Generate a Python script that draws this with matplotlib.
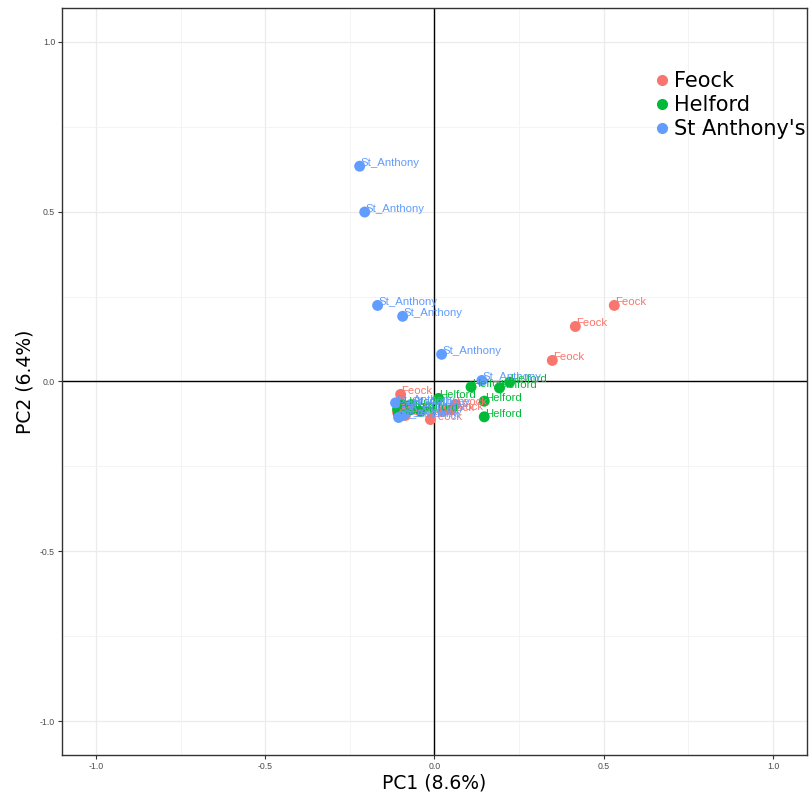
import matplotlib
matplotlib.use("Agg")
import matplotlib.pyplot as plt
from matplotlib.lines import Line2D
import numpy as np

# PCA scores

feock_x = [0.531, 0.416, 0.348, -0.100, -0.109, -0.086, -0.012, 0.024, 0.050, 0.062]
feock_y = [0.224, 0.162, 0.062, -0.038, -0.091, -0.100, -0.112, -0.088, -0.083, -0.068]

helford_x = [0.108, 0.192, 0.222, 0.147, 0.147, -0.109, -0.106, -0.094, -0.071, -0.041, 0.012]
helford_y = [-0.016, -0.019, -0.002, -0.058, -0.104, -0.082, -0.097, -0.068, -0.083, -0.088, -0.050]

stanthony_x = [-0.221, -0.206, -0.168, -0.094, 0.021, 0.140, -0.115, -0.106, -0.094, -0.085, -0.070]
stanthony_y = [0.634, 0.499, 0.224, 0.192, 0.080, 0.003, -0.063, -0.106, -0.100, -0.080, -0.068]

groups = [
	("Feock", "Feock", feock_x, feock_y, "#F8766D"),
	("Helford", "Helford", helford_x, helford_y, "#00BA38"),
	("St Anthony's", "St_Anthony", stanthony_x, stanthony_y, "#619CFF"),
]

ticks = [-1.0, -0.5, 0.0, 0.5, 1.0]
minor_ticks = [-0.75, -0.25, 0.25, 0.75]

fig = plt.figure(figsize=(8.11, 7.96), dpi=100)
ax = fig.add_axes([0.0765, 0.0515, 0.9185, 0.9385])

ax.set_xlim(-1.1, 1.1)
ax.set_ylim(-1.1, 1.1)

# grid, ggplot-ish
for t in ticks:
	ax.axvline(t, color="#EBEBEB", lw=0.9, zorder=0)
	ax.axhline(t, color="#EBEBEB", lw=0.9, zorder=0)
for t in minor_ticks:
	ax.axvline(t, color="#F2F2F2", lw=0.6, zorder=0)
	ax.axhline(t, color="#F2F2F2", lw=0.6, zorder=0)

ax.axhline(0, color="black", lw=1.0, zorder=1)
ax.axvline(0, color="black", lw=1.0, zorder=1)

# points first, then labels on top
for name, lab, xs, ys, col in groups:
	ax.scatter(xs, ys, s=62, color=col, edgecolors="none", zorder=2)

for name, lab, xs, ys, col in groups:
	for x, y in zip(xs, ys):
		ax.annotate(lab, (x, y), xytext=(0.5, 0), textcoords="offset points",
			ha="left", va="baseline", fontsize=8.2, color=col,
			family="Liberation Sans", zorder=3)

ax.set_xticks(ticks)
ax.set_yticks(ticks)
ax.set_xticklabels(["-1.0", "-0.5", "0.0", "0.5", "1.0"])
ax.set_yticklabels(["-1.0", "-0.5", "0.0", "0.5", "1.0"])
ax.tick_params(labelsize=6.3, labelcolor="#4D4D4D", length=3, width=0.8, color="#333333", pad=2)
for lbl in ax.get_xticklabels() + ax.get_yticklabels():
	lbl.set_family("Liberation Sans")

for sp in ax.spines.values():
	sp.set_color("#333333")
	sp.set_linewidth(1.0)

ax.set_xlabel("PC1 (8.6%)", fontsize=13.5, labelpad=2)
ax.set_ylabel("PC2 (6.4%)", fontsize=13.5, labelpad=4)

handles = [
	Line2D([], [], marker="o", ls="", color=col, markersize=7, label=name)
	for name, lab, xs, ys, col in groups
]
ax.legend(handles=handles, loc="upper left", bbox_to_anchor=(0.786, 0.927),
	frameon=False, fontsize=15, handletextpad=0.25, handlelength=0.6,
	labelspacing=0.2, borderaxespad=0)

fig.savefig("out.png", dpi=100)
